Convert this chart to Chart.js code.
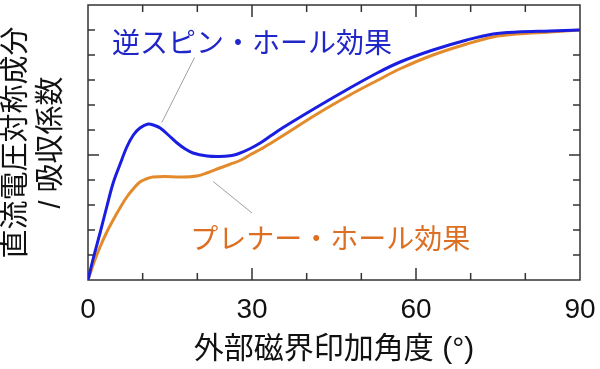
<!DOCTYPE html>
<html>
<head>
<meta charset="utf-8">
<script src="https://cdn.jsdelivr.net/npm/chart.js@4/dist/chart.umd.min.js"></script>
<style>
  html, body { margin: 0; padding: 0; background: #fff; }
  canvas { display: block; }
</style>
</head>
<body>
<canvas id="chart" width="600" height="369"></canvas>
<script>
// 逆スピン・ホール効果 (blue)
const ishAngles = [0, 1, 2.2, 3.4, 4.6, 5.9, 7.1, 8.3, 9.5, 11, 12.2, 13.2, 14.7, 16.3, 17.8, 19.2, 21.8, 24, 26, 27.5, 29.6, 31.5, 33.5, 35.7, 41.9, 47.9, 52.9, 57.1, 63.1, 69.3, 74.1, 78.5, 84.5, 90];
const ishValues = [0, 0.09, 0.188, 0.29, 0.388, 0.465, 0.532, 0.58, 0.608, 0.624, 0.618, 0.608, 0.58, 0.548, 0.524, 0.508, 0.496, 0.494, 0.497, 0.505, 0.525, 0.548, 0.578, 0.61, 0.692, 0.768, 0.828, 0.872, 0.92, 0.96, 0.984, 0.992, 0.996, 1.0];

// プレナー・ホール効果 (orange)
const phAngles = [0, 1, 2.2, 3.4, 4.6, 5.9, 7.1, 8.3, 9.5, 10.7, 11.9, 14, 16.8, 19.9, 22, 24.1, 26, 27.8, 29.6, 31.5, 33.5, 35.7, 41.9, 47.9, 52.9, 57.1, 63.1, 69.3, 74.1, 78.5, 84.5, 90];
const phValues = [0, 0.065, 0.132, 0.19, 0.24, 0.29, 0.332, 0.365, 0.392, 0.405, 0.412, 0.414, 0.412, 0.416, 0.43, 0.448, 0.463, 0.478, 0.5, 0.522, 0.548, 0.578, 0.664, 0.74, 0.798, 0.845, 0.9, 0.944, 0.972, 0.984, 0.992, 1.0];

const xTickLabels = [0, 30, 60, 90];

const BLUE = '#1a1ee0';
const ORANGE = '#e38b2c';
const cjk = '"Liberation Sans", "Noto Sans CJK JP", sans-serif';

const toPoints = (xs, ys) => xs.map((x, i) => ({ x, y: ys[i] }));

// frame with inward ticks
const framePlugin = {
  id: 'frame',
  beforeDatasetsDraw(chart) {
    const { ctx, chartArea: a, scales: { x, y } } = chart;
    ctx.save();
    ctx.strokeStyle = '#333';
    ctx.lineWidth = 1.5;
    ctx.strokeRect(a.left, a.top, a.right - a.left, a.bottom - a.top);
    ctx.beginPath();
    for (let v = 10; v < 90; v += 10) {
      const px = x.getPixelForValue(v);
      const len = v % 30 === 0 ? 12 : 7;
      ctx.moveTo(px, a.bottom); ctx.lineTo(px, a.bottom - len);
      ctx.moveTo(px, a.top); ctx.lineTo(px, a.top + len);
    }
    for (let i = 1; i < 11; i++) {
      const py = y.getPixelForValue(i / 10);
      const len = i === 5 ? 11 : 7;
      ctx.moveTo(a.left, py); ctx.lineTo(a.left + len, py);
      ctx.moveTo(a.right, py); ctx.lineTo(a.right - len, py);
    }
    ctx.stroke();
    ctx.restore();
  }
};

// curve labels with grey leader lines
const labels = [
  { text: '逆スピン・ホール効果', color: '#2026c8', x: 4.4, y: 0.94, from: [13.5, 0.63], to: [19.5, 0.89] },
  { text: 'プレナー・ホール効果', color: '#dc6f22', x: 18.7, y: 0.156, from: [22.9, 0.394], to: [30, 0.268] }
];

const labelPlugin = {
  id: 'curveLabels',
  afterDatasetsDraw(chart) {
    const { ctx, scales: { x, y } } = chart;
    ctx.save();
    labels.forEach(l => {
      ctx.strokeStyle = '#a0a0a0';
      ctx.lineWidth = 1;
      ctx.beginPath();
      ctx.moveTo(x.getPixelForValue(l.from[0]), y.getPixelForValue(l.from[1]));
      ctx.lineTo(x.getPixelForValue(l.to[0]), y.getPixelForValue(l.to[1]));
      ctx.stroke();
      ctx.fillStyle = l.color;
      ctx.font = '28px ' + cjk;
      ctx.textAlign = 'left';
      ctx.textBaseline = 'middle';
      ctx.fillText(l.text, x.getPixelForValue(l.x), y.getPixelForValue(l.y));
    });
    ctx.restore();
  }
};

new Chart(document.getElementById('chart'), {
  type: 'line',
  data: {
    datasets: [
      {
        label: '逆スピン・ホール効果',
        data: toPoints(ishAngles, ishValues),
        borderColor: BLUE,
        borderWidth: 3,
        pointRadius: 0,
        tension: 0.35
      },
      {
        label: 'プレナー・ホール効果',
        data: toPoints(phAngles, phValues),
        borderColor: ORANGE,
        borderWidth: 3,
        pointRadius: 0,
        tension: 0.35
      }
    ]
  },
  options: {
    responsive: false,
    animation: false,
    layout: { padding: { top: 5, right: 20, left: 0, bottom: 0 } },
    plugins: { legend: { display: false }, tooltip: { enabled: false } },
    scales: {
      x: {
        type: 'linear',
        min: 0,
        max: 90,
        grid: { display: false },
        border: { display: false },
        afterFit: s => { s.height = 89; s.paddingLeft = 0; s.paddingRight = 0; },
        ticks: {
          stepSize: 10,
          autoSkip: false,
          maxRotation: 0,
          padding: 5,
          color: '#111',
          font: { family: '"Liberation Sans", Arial, sans-serif', size: 28 },
          callback: v => xTickLabels.includes(v) ? String(v) : ''
        },
        title: {
          display: true,
          text: '外部磁界印加角度 (°)',
          color: '#111',
          font: { family: cjk, size: 30, lineHeight: 1.2 },
          padding: { top: 0, bottom: 1 }
        }
      },
      y: {
        min: 0,
        max: 1.1,
        grid: { display: false },
        border: { display: false },
        ticks: { display: false },
        afterFit: s => { s.width = 88; },
        title: {
          display: true,
          text: ['直流電圧対称成分', '/ 吸収係数'],
          color: '#111',
          font: { family: cjk, size: 29, lineHeight: 1.2 },
          padding: { top: 0, bottom: 0 }
        }
      }
    }
  },
  plugins: [framePlugin, labelPlugin]
});
</script>
</body>
</html>
